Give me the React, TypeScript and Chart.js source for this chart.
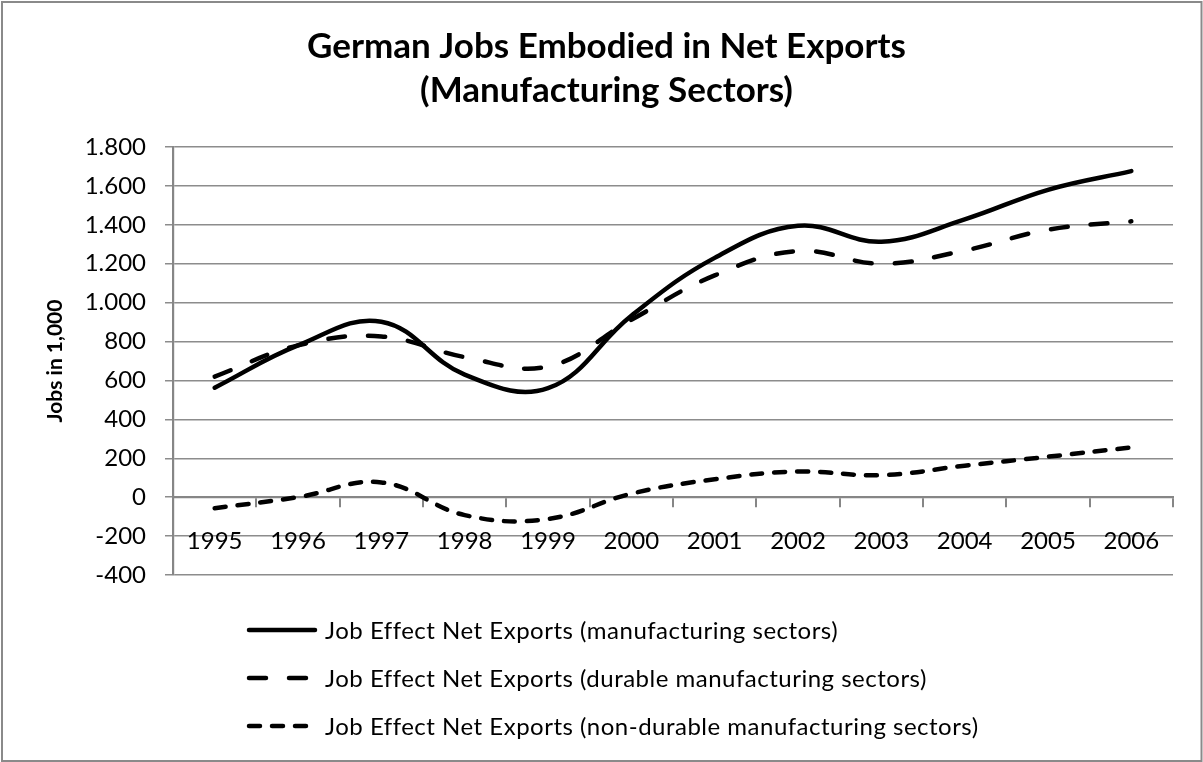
import React, { useEffect, useRef } from 'react';
import { Chart, registerables } from 'chart.js';

Chart.register(...registerables);

// ---- data ----
const years = ['1995', '1996', '1997', '1998', '1999', '2000', '2001', '2002', '2003', '2004', '2005', '2006'];
const manufacturing = [563, 780, 902, 630, 560, 933, 1230, 1395, 1313, 1428, 1580, 1676];
const durable = [620, 780, 826, 720, 672, 912, 1140, 1265, 1200, 1268, 1375, 1418];
const nonDurable = [-57, 0, 76, -92, -112, 18, 92, 132, 113, 162, 208, 256];
const seriesLabels = [
  'Job Effect Net Exports (manufacturing sectors)',
  'Job Effect Net Exports (durable manufacturing sectors)',
  'Job Effect Net Exports (non-durable manufacturing sectors)',
];
const titleLines = ['German Jobs Embodied in Net Exports', '(Manufacturing Sectors)'];
const yAxisTitle = 'Jobs in 1,000';
const yMin = -400;
const yMax = 1800;
const yStep = 200;

const FONT = 'Lato';
const GRID = '#8c8c8c';
const AXIS = '#868686';

function formatThousands(v: number): string {
  const s = Math.abs(v).toString().replace(/\B(?=(\d{3})+(?!\d))/g, '.');
  return (v < 0 ? '-' : '') + s;
}

const framePlugin = {
  id: 'frame',
  beforeDraw(chart: any) {
    const ctx = chart.ctx;
    ctx.save();
    ctx.fillStyle = '#ffffff';
    ctx.fillRect(0, 0, chart.width, chart.height);
    ctx.strokeStyle = '#8a8a8a';
    ctx.lineWidth = 2;
    ctx.strokeRect(2, 2, chart.width - 3.5, chart.height - 3);
    ctx.restore();
  },
};

const legendPlugin = {
  id: 'stackedLegend',
  afterDraw(chart: any) {
    const ctx = chart.ctx;
    const rows = [630, 678, 726];
    chart.data.datasets.forEach((ds: any, i: number) => {
      const y = rows[i];
      ctx.save();
      ctx.strokeStyle = ds.borderColor;
      ctx.lineWidth = ds.borderWidth;
      ctx.lineCap = 'round';
      ctx.setLineDash(ds.borderDash || []);
      ctx.beginPath();
      ctx.moveTo(249, y);
      ctx.lineTo(315, y);
      ctx.stroke();
      ctx.setLineDash([]);
      ctx.fillStyle = '#000000';
      ctx.font = `24px ${FONT}`;
      try {
        (ctx as any).letterSpacing = '0.5px';
      } catch (e) {
        /* ignore */
      }
      ctx.textBaseline = 'middle';
      ctx.textAlign = 'left';
      ctx.fillText(ds.label, 325, y + 1);
      ctx.restore();
    });
  },
};

export default function App() {
  const canvasRef = useRef<HTMLCanvasElement | null>(null);

  useEffect(() => {
    document.body.style.margin = '0';
    const canvas = canvasRef.current;
    if (!canvas) return;
    const lineCommon = {
      borderColor: '#000000',
      borderWidth: 4.5,
      pointRadius: 0,
      pointHoverRadius: 0,
      tension: 0.4,
      fill: false,
      borderCapStyle: 'round' as const,
      borderJoinStyle: 'round' as const,
    };
    const chart = new Chart(canvas, {
      type: 'line',
      data: {
        labels: years,
        datasets: [
          { ...lineCommon, label: seriesLabels[0], data: manufacturing, borderDash: [] },
          { ...lineCommon, label: seriesLabels[1], data: durable, borderDash: [17, 23] },
          { ...lineCommon, label: seriesLabels[2], data: nonDurable, borderDash: [11, 12] },
        ],
      },
      options: {
        animation: false,
        responsive: true,
        maintainAspectRatio: false,
        devicePixelRatio: 1,
        layout: { padding: { left: 40, right: 30, top: 0, bottom: 187 } },
        font: { family: FONT },
        plugins: {
          legend: { display: false },
          tooltip: { enabled: false },
          title: {
            display: true,
            text: titleLines,
            color: '#000000',
            font: { family: FONT, size: 35, weight: 'bold', lineHeight: 1.257 },
            padding: { top: 25, bottom: 34 },
          },
        },
        scales: {
          x: {
            type: 'category',
            position: { y: 0 } as any,
            offset: true,
            grid: {
              display: true,
              drawOnChartArea: false,
              drawTicks: true,
              tickLength: 9,
              offset: true,
              color: AXIS,
              lineWidth: 2,
            },
            border: { display: true, color: AXIS, width: 2.2 },
            ticks: {
              color: '#000000',
              font: { family: FONT, size: 24 },
              padding: 21,
              maxRotation: 0,
              autoSkip: false,
            },
          },
          y: {
            type: 'linear',
            min: yMin,
            max: yMax,
            afterFit: (scale: any) => {
              scale.width = 133;
            },
            ticks: {
              stepSize: yStep,
              color: '#000000',
              font: { family: FONT, size: 24 },
              padding: 19,
              callback: (v: any) => formatThousands(Number(v)),
            },
            grid: {
              color: GRID,
              lineWidth: 1.5,
              drawTicks: true,
              tickLength: 8,
            },
            border: { display: true, color: AXIS, width: 2.2 },
            title: {
              display: true,
              text: yAxisTitle,
              color: '#000000',
              font: { family: FONT, size: 21, weight: 'bold', lineHeight: 1.2 },
              padding: { top: 3, bottom: 0 },
            },
          },
        },
      },
      plugins: [framePlugin, legendPlugin],
    });
    return () => chart.destroy();
  }, []);

  return (
    <div style={{ position: 'relative', width: 1203, height: 762 }}>
      <canvas ref={canvasRef} />
    </div>
  );
}
